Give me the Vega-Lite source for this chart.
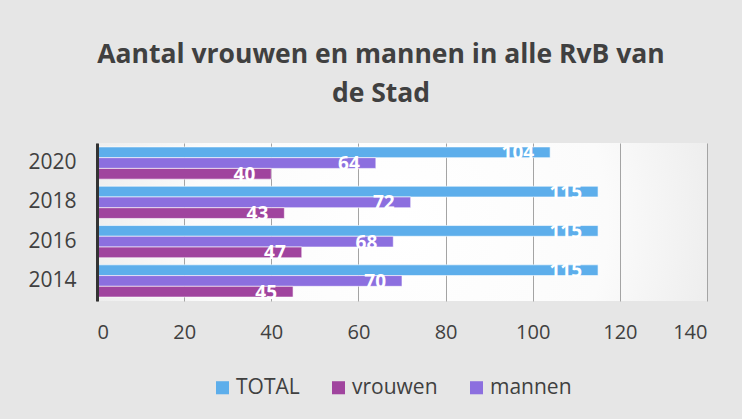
{
  "$schema": "https://vega.github.io/schema/vega-lite/v6.json",
  "width": 610,
  "height": 158,
  "autosize": "none",
  "padding": {"left": 97, "top": 143, "right": 35, "bottom": 118},
  "background": "#e6e6e6",
  "config": {
    "font": "Open Sans",
    "view": {
      "stroke": null,
      "fill": {"expr": "{gradient: 'radial', x1: 0.5, y1: 0.5, r1: 0, x2: 0.5, y2: 0.5, r2: 0.75, stops: [{offset: 0, color: '#ffffff'}, {offset: 0.45, color: '#fbfbfb'}, {offset: 1, color: '#dcdcdc'}]}"}
    }
  },
  "title": {
    "text": ["Aantal vrouwen en mannen in alle RvB van", "de Stad"],
    "font": "Open Sans",
    "fontSize": 26.5,
    "fontWeight": "bold",
    "color": "#404040",
    "lineHeight": 39,
    "anchor": "middle",
    "dx": -21,
    "offset": 36
  },
  "data": {
    "values": [
      {"jaar": "2020", "reeks": "TOTAL", "aantal": 104},
      {"jaar": "2020", "reeks": "mannen", "aantal": 64},
      {"jaar": "2020", "reeks": "vrouwen", "aantal": 40},
      {"jaar": "2018", "reeks": "TOTAL", "aantal": 115},
      {"jaar": "2018", "reeks": "mannen", "aantal": 72},
      {"jaar": "2018", "reeks": "vrouwen", "aantal": 43},
      {"jaar": "2016", "reeks": "TOTAL", "aantal": 115},
      {"jaar": "2016", "reeks": "mannen", "aantal": 68},
      {"jaar": "2016", "reeks": "vrouwen", "aantal": 47},
      {"jaar": "2014", "reeks": "TOTAL", "aantal": 115},
      {"jaar": "2014", "reeks": "mannen", "aantal": 70},
      {"jaar": "2014", "reeks": "vrouwen", "aantal": 45}
    ]
  },
  "encoding": {
    "y": {
      "field": "jaar",
      "type": "nominal",
      "sort": ["2020", "2018", "2016", "2014"],
      "scale": {"paddingInner": 0.18, "paddingOuter": 0.1},
      "axis": {
        "title": null,
        "zindex": 1,
        "domain": true,
        "domainColor": "#333333",
        "domainWidth": 3,
        "ticks": false,
        "grid": false,
        "labelFontSize": 21,
        "labelColor": "#404040",
        "labelPadding": 21
      }
    },
    "yOffset": {"field": "reeks", "sort": ["TOTAL", "mannen", "vrouwen"]},
    "x": {
      "field": "aantal",
      "type": "quantitative",
      "scale": {"domain": [0, 140], "nice": false},
      "axis": {
        "title": null,
        "values": [0, 20, 40, 60, 80, 100, 120, 140],
        "domain": false,
        "ticks": false,
        "grid": true,
        "gridColor": "#a4a4a4",
        "gridWidth": 1,
        "labelFontSize": 20,
        "labelColor": "#404040",
        "labelPadding": 21
      }
    }
  },
  "layer": [
    {
      "mark": {"type": "bar", "stroke": "#ffffff", "strokeWidth": 1, "strokeOpacity": 0.6},
      "encoding": {
        "color": {
          "field": "reeks",
          "type": "nominal",
          "scale": {"domain": ["TOTAL", "vrouwen", "mannen"], "range": ["#5daeeb", "#a0449e", "#8c6fdf"]},
          "legend": {
            "title": null,
            "orient": "none",
            "direction": "horizontal",
            "legendX": 115,
            "legendY": 234,
            "symbolType": "square",
            "symbolSize": 170,
            "symbolStrokeWidth": 0,
            "labelFontSize": 21,
            "labelColor": "#404040",
            "labelOffset": 3,
            "columnPadding": 28
          }
        }
      }
    },
    {
      "mark": {"type": "text", "color": "#ffffff", "fontWeight": "bold", "fontSize": 19, "align": "right", "baseline": "middle", "dx": -16, "dy": 1},
      "encoding": {"text": {"field": "aantal", "type": "quantitative"}}
    }
  ]
}
